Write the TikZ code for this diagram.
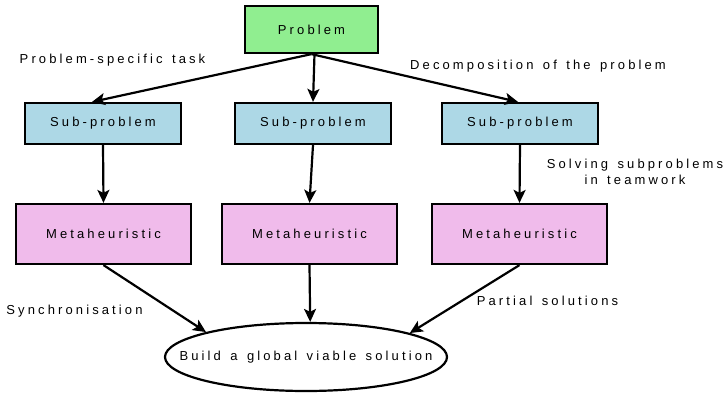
\documentclass[tikz,border=0pt]{standalone}
\usepackage{fontspec}
\setmainfont{Liberation Sans}[LetterSpace=24,WordSpace=1.4]
\usetikzlibrary{arrows.meta,shapes.geometric}
\definecolor{probgreen}{HTML}{90EE90}
\definecolor{subblue}{HTML}{ADD8E6}
\definecolor{metapink}{HTML}{F0BBEB}
\begin{document}
\begin{tikzpicture}[x=1pt,y=-1pt,
  font=\fontsize{13}{16}\selectfont,
  box/.style={draw=black,line width=2.2pt,rectangle,inner sep=0pt},
  probbox/.style={box,fill=probgreen,minimum width=133pt,minimum height=47pt},
  subbox/.style={box,fill=subblue,minimum width=156pt,minimum height=41pt},
  metabox/.style={box,fill=metapink,minimum width=175pt,minimum height=60pt},
  goal/.style={draw=black,line width=2.2pt,ellipse,inner sep=0pt,minimum width=282pt,minimum height=68pt},
  arr/.style={-{Stealth[length=13pt,width=12pt,inset=3pt]},line width=2.2pt},
  lbl/.style={inner sep=0pt,align=center}]
\useasboundingbox (0,0) rectangle (726,394);

% boxes
\node[probbox] (P) at (311.5,29.5) {Problem};
\node[subbox] (SL) at (103,123.5) {Sub-problem};
\node[subbox] (SM) at (313,123.5) {Sub-problem};
\node[subbox] (SR) at (520,123.5) {Sub-problem};
\node[metabox] (ML) at (103.5,234) {Metaheuristic};
\node[metabox] (MM) at (309.5,234) {Metaheuristic};
\node[metabox] (MR) at (519.5,234) {Metaheuristic};
\node[goal,label={[lbl]center:Build a global viable solution}] (E) at (306,357) {};

% labels
\node[lbl] (l1) at (112.5,60) {Problem-specific task};
\node[lbl] (l2) at (538,66) {Decomposition of the problem};
\node[lbl] (l3) at (635,172) {Solving subproblems\\in teamwork};
\node[lbl] (l4) at (74.5,311) {Synchronisation};
\node[lbl] (l5) at (547.5,301) {Partial solutions};

% decomposition
\draw[arr] (P.south) -- ([xshift=-11pt]SL.north);
\draw[arr] ([xshift=3pt]P.south) -- (SM.north);
\draw[arr] (P.south) -- ([xshift=-2pt]SR.north);

% solving
\draw[arr] (SL.south) -- (ML.north);
\draw[arr] (SM.south) -- (MM.north);
\draw[arr] (SR.south) -- (MR.north);

% merging
\draw[arr] (ML.south) -- (E.166.6);
\draw[arr] (MM.south) -- ([xshift=4.2pt]E.north);
\draw[arr] (MR.south) -- (E.13.4);
\end{tikzpicture}
\end{document}
